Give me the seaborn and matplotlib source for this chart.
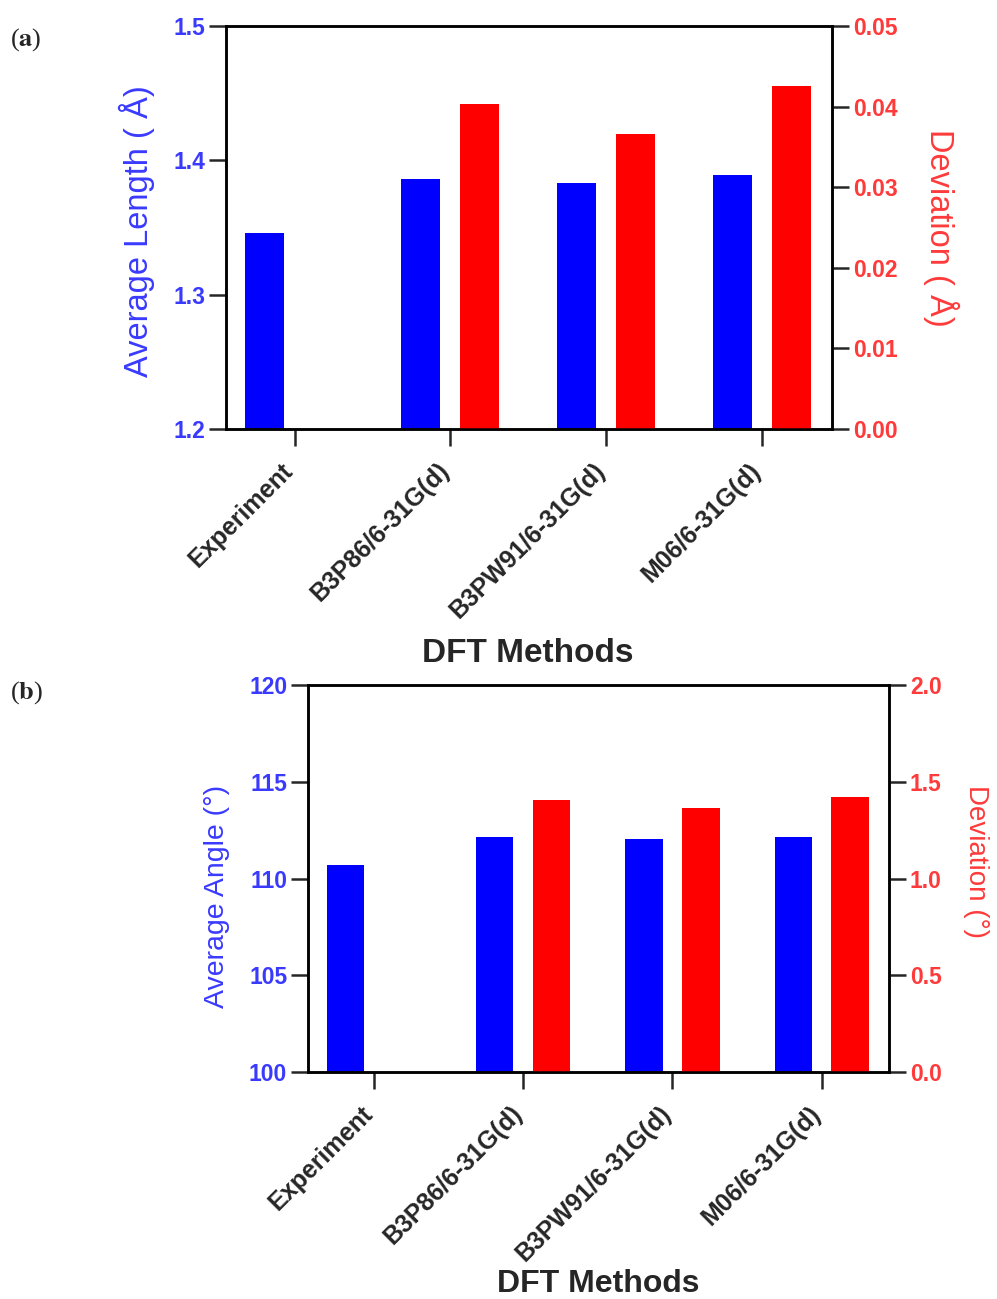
import matplotlib.pyplot as plt
import seaborn as sns
import pandas as pd

# data
methods = ['Experiment', 'B3P86/6-31G(d)', 'B3PW91/6-31G(d)', 'M06/6-31G(d)']
avg_length = [1.346, 1.386, 1.383, 1.389]
dev_length = [None, 0.0403, 0.0366, 0.0426]
avg_angle = [110.7, 112.14, 112.05, 112.17]
dev_angle = [None, 1.405, 1.366, 1.423]

length_ticks = [1.2, 1.3, 1.4, 1.5]
length_dev_ticks = [0.00, 0.01, 0.02, 0.03, 0.04, 0.05]
angle_ticks = [100, 105, 110, 115, 120]
angle_dev_ticks = [0.0, 0.5, 1.0, 1.5, 2.0]

BLUE = '#0000ff'
RED = '#ff0000'
BLUE_TXT = '#3a3aff'
RED_TXT = '#ff3a3a'

sns.set_style('ticks')
plt.rcParams['font.family'] = ['Liberation Sans', 'DejaVu Sans']
plt.rcParams['mathtext.fontset'] = 'stix'


def long_frame(avg, dev):
    """
    Builds a long table with one row per bar
    """
    rows = []
    for m, a, d in zip(methods, avg, dev):
        rows.append({'method': m, 'series': 'avg', 'value': a})
        if d is not None:
            rows.append({'method': m, 'series': 'dev', 'value': d})
    return pd.DataFrame(rows)


def draw_panel(ax, avg, dev, ylim, yticks, ylim2, yticks2, fmt2,
               ylabel, ylabel2, lab_size, lab_pos, xlab_pos):
    """
    Draws one panel: blue bars on the left axis, red bars on the right axis
    """
    df = long_frame(avg, dev)
    pal = {'avg': BLUE, 'dev': RED}
    kw = dict(x='method', y='value', hue='series', hue_order=['avg', 'dev'],
              order=methods, palette=pal, dodge=True, width=0.76, gap=0.34,
              saturation=1, errorbar=None, legend=False, linewidth=0)

    sns.barplot(data=df[df['series'] == 'avg'], ax=ax, **kw)
    ax2 = ax.twinx()
    sns.barplot(data=df[df['series'] == 'dev'], ax=ax2, **kw)

    ax.set_xlim(-0.44, 3.45)
    ax.set_ylim(*ylim)
    ax.set_yticks(yticks)
    ax.set_yticklabels([f'{t:g}' if isinstance(t, int) else f'{t:.1f}' for t in yticks])
    ax2.set_ylim(*ylim2)
    ax2.set_yticks(yticks2)
    ax2.set_yticklabels([fmt2.format(t) for t in yticks2])

    for a in (ax, ax2):
        for s in a.spines.values():
            s.set_linewidth(1.8)
            s.set_color('black')

    ax.tick_params(axis='y', length=12, width=1.8, labelsize=16.5,
                   labelcolor=BLUE_TXT, pad=3)
    ax2.tick_params(axis='y', length=12, width=1.8, labelsize=16.5,
                    labelcolor=RED_TXT, pad=3)
    ax.tick_params(axis='x', length=12, width=1.8, labelsize=18, pad=19)
    for t in ax.get_yticklabels() + ax2.get_yticklabels():
        t.set_fontweight('bold')
    ax.set_xticks(range(len(methods)))
    ax.set_xticklabels(methods, rotation=45, ha='right', va='baseline',
                       rotation_mode='anchor', fontweight='bold')

    ax.set_xlabel('DFT Methods', fontsize=lab_size[2], fontweight='bold',
                  va='center')
    ax.xaxis.set_label_coords(*xlab_pos)
    ax.set_ylabel(ylabel, color=BLUE_TXT, fontsize=lab_size[0], va='center')
    ax.yaxis.set_label_coords(lab_pos[0], lab_pos[1])
    ax2.set_ylabel(ylabel2, color=RED_TXT, fontsize=lab_size[1],
                   rotation=270, va='center')
    ax2.yaxis.set_label_coords(lab_pos[2], lab_pos[3])


fig = plt.figure(figsize=(9.97, 12.99), dpi=100)
ax_a = fig.add_axes([226 / 997, 1 - 429 / 1299, 606 / 997, 403 / 1299])
ax_b = fig.add_axes([308 / 997, 1 - 1072 / 1299, 581 / 997, 387 / 1299])

draw_panel(ax_a, avg_length, dev_length, (1.2, 1.5), length_ticks,
           (0, 0.05), length_dev_ticks, '{:.2f}',
           'Average Length ( Å)', 'Deviation ( Å)', (23.5, 23.5, 24),
           (-0.147, 0.49, 1.18, 0.5), (0.498, -0.556))
draw_panel(ax_b, avg_angle, dev_angle, (100, 120), angle_ticks,
           (0, 2.0), angle_dev_ticks, '{:.1f}',
           'Average Angle (°)', 'Deviation (°)', (20.5, 20, 23),
           (-0.157, 0.453, 1.15, 0.543), (0.499, -0.549))

fig.text(10 / 997, 1 - 40 / 1299, r'($\mathbf{a}$)', fontsize=19,
         family='Liberation Serif', va='center')
fig.text(10 / 997, 1 - 693 / 1299, r'($\mathbf{b}$)', fontsize=19,
         family='Liberation Serif', va='center')

plt.savefig('out.png', dpi=100)
